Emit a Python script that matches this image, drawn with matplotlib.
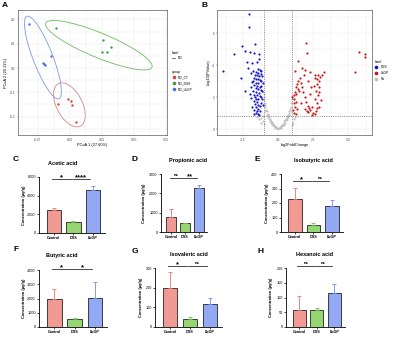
import numpy as np
import matplotlib
matplotlib.use("Agg")
import matplotlib.pyplot as plt
from matplotlib.patches import Ellipse
from matplotlib.lines import Line2D

plt.rcParams["font.family"] = ["Liberation Sans", "DejaVu Sans"]

# ---- A: PCoA scores
ct_x = [-0.094, -0.016, 0.008, 0.016, 0.047]
ct_y = [-0.148, -0.128, -0.136, -0.152, -0.222]
dss_x = [-0.109, 0.258, 0.320, 0.250, 0.289]
dss_y = [0.165, 0.115, 0.086, 0.066, 0.066]
lbgp_x = [-0.320, -0.148, -0.211, -0.195, -0.203]
lbgp_y = [0.181, 0.049, 0.021, 0.012, 0.016]
group_names = ["NO_CT", "NO_DSS", "NO_LbGP"]
F_90 = 4.32  # qf(0.90, 2, 4), ellipse level 0.9

# ---- B: volcano
down_x = [-2.07, -2.07, -2.6, -3.12, -3.9, -1.64, -2.36, -2.0, -1.71, -1.36, -2.24, -1.88,
          -1.52, -1.33, -2.12, -1.81, -2.67, -2.36,
          -1.45, -1.3, -1.2, -1.55, -1.4, -1.25, -1.65, -1.5, -1.35, -1.15, -1.75, -1.6,
          -1.45, -1.3, -1.2, -1.85, -1.55, -1.4, -1.1, -1.7, -1.5, -1.3, -1.95, -1.6,
          -1.45, -1.25, -1.15, -1.8, -1.55, -1.35, -1.7, -1.5, -1.3, -1.2, -1.9, -1.6,
          -1.4, -1.75, -1.5, -1.25, -1.65, -1.45, -1.3, -1.85, -1.55, -1.4, -1.7, -1.5,
          -1.3, -1.6, -1.45, -1.75, -1.35, -1.9, -1.8, -1.15, -1.1, -1.65, -2.0, -1.2]
down_y = [7.19, 6.35, 5.21, 4.69, 3.65, 5.3, 4.85, 4.8, 4.73, 4.69, 4.2, 4.1,
          4.2, 4.35, 3.79, 3.62, 3.2, 2.4,
          3.75, 3.7, 3.6, 3.55, 3.5, 3.45, 3.4, 3.35, 3.3, 3.3, 3.2, 3.15,
          3.1, 3.05, 3.0, 2.95, 2.9, 2.85, 2.85, 2.75, 2.7, 2.65, 2.6, 2.55,
          2.5, 2.45, 2.4, 2.35, 2.3, 2.25, 2.15, 2.1, 2.05, 2.0, 1.95, 1.9,
          1.85, 1.75, 1.7, 1.65, 1.55, 1.5, 1.45, 1.4, 1.35, 1.25, 1.2, 1.15,
          1.1, 1.0, 0.95, 0.92, 0.9, 3.5, 3.0, 1.9, 1.5, 2.0, 2.2, 2.7]
up_x = [2.0, 2.05, 5.74, 6.17, 6.17, 5.5, 1.45, 1.69, 1.21, 1.93, 2.29, 2.64, 2.88, 3.24,
        1.1, 1.15, 1.2, 1.25, 1.3, 1.35, 1.4, 1.45, 1.5, 1.55, 1.1, 1.2, 1.3, 1.05, 1.15,
        1.25, 1.6, 1.7, 1.8, 1.9, 2.0, 2.1, 2.2, 2.3, 2.4, 1.95, 2.05, 2.15, 2.5, 2.6,
        2.7, 2.75, 2.8, 2.65, 2.85, 2.7, 2.9, 2.75, 2.95, 2.8, 3.0, 3.1, 2.6, 2.55, 2.95,
        3.05, 2.9, 2.35, 2.15, 1.85, 1.35, 1.0, 2.45, 1.6, 2.25]
up_y = [5.4, 4.73, 4.79, 4.69, 4.52, 3.58, 4.27, 3.79, 3.62, 3.68, 3.54, 3.37, 3.4, 3.54,
        2.1, 1.9, 2.3, 2.6, 2.2, 2.8, 2.5, 3.0, 2.4, 3.2, 1.6, 1.4, 1.7, 1.2, 1.0,
        0.95, 2.9, 2.6, 2.3, 2.0, 1.7, 1.45, 1.3, 1.2, 1.35, 1.25, 1.1, 1.05, 1.0, 0.95,
        1.1, 1.3, 1.6, 1.9, 2.1, 2.4, 2.6, 2.8, 3.0, 3.15, 3.25, 3.4, 3.2, 2.7, 2.3,
        1.8, 1.4, 2.6, 3.0, 3.35, 1.25, 2.0, 0.9, 1.6, 2.2]
ns_x = [-1.05, -1.0, -1.0, -0.98, -0.95, -0.92, -0.9, -0.85, -0.8, -0.75, -0.7, -0.65,
        -0.6, -0.55, -0.5, -0.45, -0.4, -0.35, -0.3, -0.25, -0.2, -0.15, -0.1, -0.05,
        0.0, 0.05, 0.1, 0.15, 0.2, 0.25, 0.3, 0.35, 0.4, 0.45, 0.5, 0.55, 0.6, 0.65,
        0.7, 0.75, 0.8, 0.85, 0.9, 0.95, 0.98, 1.0,
        -0.9, -0.8, -0.7, -0.6, -0.5, -0.4, -0.3, -0.2, 0.2, 0.3, 0.4, 0.5, 0.6, 0.7,
        0.8, 0.9, -1.2, -1.35, -1.1, -1.5, -1.25, -1.05, 1.1, 1.2, 1.05, -1.0, 1.0]
ns_y = [2.3, 2.2, 2.0, 1.8, 1.6, 1.5, 1.35, 1.2, 1.1, 0.95, 0.85, 0.75,
        0.65, 0.55, 0.5, 0.42, 0.35, 0.3, 0.25, 0.2, 0.15, 0.1, 0.07, 0.04,
        0.02, 0.04, 0.08, 0.12, 0.17, 0.22, 0.28, 0.33, 0.4, 0.47, 0.55, 0.62, 0.7, 0.8,
        0.9, 1.0, 1.12, 1.25, 1.4, 1.6, 1.85, 2.05,
        1.1, 0.9, 0.7, 0.5, 0.38, 0.25, 0.16, 0.08, 0.08, 0.16, 0.27, 0.4, 0.55, 0.72,
        0.9, 1.15, 0.7, 0.6, 0.5, 0.75, 0.4, 0.8, 0.6, 0.75, 0.4, 0.3, 0.25]
fc_cut = 1.0
p_cut = 0.82

# ---- C-H: SCFA bars (mean, upper error)
groups = ["Control", "DSS", "LbGP"]
acetic_mean = [2460, 1180, 4600]
acetic_err = [220, 70, 440]
propionic_mean = [780, 465, 2275]
propionic_err = [410, 20, 160]
isobutyric_mean = [228, 48, 179]
isobutyric_err = [75, 14, 41]
butyric_mean = [1965, 560, 2035]
butyric_err = [705, 40, 1125]
isovaleric_mean = [200, 40, 117]
isovaleric_err = [80, 10, 33]
hexanoic_mean = [58, 58, 116]
hexanoic_err = [47, 7, 30]

W, H = 400, 337
fig = plt.figure(figsize=(W / 100, H / 100), dpi=100)


def rect(l, t, r, b):
    return [l / W, 1 - b / H, (r - l) / W, (b - t) / H]


def ftext(x, y, s, **kw):
    fig.text(x / W, 1 - y / H, s, **kw)


def cov_trob(pts, nu=5, maxit=25, tol=0.01):
    # robust t covariance, same idea as MASS::cov.trob used by stat_ellipse
    n, p = pts.shape
    loc = pts.mean(axis=0)
    w = np.ones(n)
    for _ in range(maxit):
        w0 = w
        X = pts - loc
        _, d, vt = np.linalg.svd(X / np.sqrt(n), full_matrices=False)
        wX = X @ vt.T / d
        Q = (wX ** 2).sum(axis=1)
        w = (nu + p) / (nu + Q)
        loc = (w[:, None] * pts).sum(axis=0) / w.sum()
        if np.all(np.abs(w - w0) < tol):
            break
    cov = (np.sqrt(w)[:, None] * X).T @ (np.sqrt(w)[:, None] * X) / n
    return loc, cov


def gg_axes(ax):
    ax.set_facecolor("white")
    for s in ax.spines.values():
        s.set_color("#333333")
        s.set_linewidth(0.4)
    ax.grid(True, which="both", color="#EBEBEB", lw=0.3)
    ax.set_axisbelow(True)
    ax.tick_params(length=1, width=0.3, labelsize=2.3, colors="#4D4D4D", pad=1)


# A
pt_cols = ["#D4463F", "#3F9E3A", "#4F6FE0"]
el_cols = ["#D88580", "#6DBA62", "#7E98E8"]
axA = fig.add_axes(rect(18, 10, 167, 135))
gg_axes(axA)
for gx, gy, pc, ec in zip([ct_x, dss_x, lbgp_x], [ct_y, dss_y, lbgp_y], pt_cols, el_cols):
    pts = np.column_stack([gx, gy])
    loc, cov = cov_trob(pts)
    vals, vecs = np.linalg.eigh(cov)
    r = np.sqrt(2 * F_90)
    ang = np.degrees(np.arctan2(vecs[1, 1], vecs[0, 1]))
    axA.add_patch(Ellipse(loc, 2 * r * np.sqrt(vals[1]), 2 * r * np.sqrt(vals[0]),
                          angle=ang, fill=False, ec=ec, lw=0.6))
    axA.scatter(gx, gy, s=3, color=pc, lw=0, zorder=3)
axA.set_xlim(-0.406, 0.758)
axA.set_ylim(-0.276, 0.239)
axA.set_xticks([-0.25, 0, 0.25, 0.5, 0.75])
axA.set_xticklabels(["-0.25", "0.00", "0.25", "0.50", "0.75"])
axA.set_yticks([-0.2, -0.1, 0, 0.1, 0.2])
axA.set_yticklabels(["-0.2", "-0.1", "0.0", "0.1", "0.2"])
axA.set_xticks([-0.375, -0.125, 0.125, 0.375, 0.625], minor=True)
axA.set_yticks([-0.25, -0.15, -0.05, 0.05, 0.15], minor=True)
axA.tick_params(which="minor", length=0)
axA.set_xlabel("PCoA 1 (27.60%)", fontsize=2.8, labelpad=1)
axA.set_ylabel("PCoA 2 (20.11%)", fontsize=2.8, labelpad=1)

lg1 = axA.legend([Line2D([], [], color="#333333", lw=0.5)], ["NO"], title="level",
                 loc="upper left", bbox_to_anchor=(170 / W, 1 - 49 / H),
                 bbox_transform=fig.transFigure, fontsize=2.3, title_fontsize=2.5,
                 frameon=False, handlelength=1.2, borderpad=0, alignment="left")
axA.add_artist(lg1)
hs = [Line2D([], [], ls="", marker="o", ms=1.6, color=c) for c in pt_cols]
axA.legend(hs, group_names, title="group", loc="upper left",
           bbox_to_anchor=(170 / W, 1 - 68 / H), bbox_transform=fig.transFigure,
           fontsize=2.3, title_fontsize=2.5, frameon=False, handlelength=1.2,
           borderpad=0, labelspacing=0.6, alignment="left")

# B
axB = fig.add_axes(rect(217, 10, 372, 135))
gg_axes(axB)
axB.scatter(ns_x, ns_y, s=2, color="#BEBEBE", lw=0, zorder=2)
axB.scatter(down_x, down_y, s=2.4, color="#1010D0", lw=0, zorder=3)
axB.scatter(up_x, up_y, s=2.4, color="#D01010", lw=0, zorder=3)
axB.axvline(-fc_cut, color="#444444", ls=(0, (2, 2)), lw=0.4)
axB.axvline(fc_cut, color="#444444", ls=(0, (2, 2)), lw=0.4)
axB.axhline(p_cut, color="#444444", ls=(0, (2, 2)), lw=0.4)
axB.set_xlim(-4.36, 6.7)
axB.set_ylim(-0.375, 7.44)
axB.set_xticks([-2.5, 0, 2.5, 5])
axB.set_xticklabels(["-2.5", "0.0", "2.5", "5.0"])
axB.set_yticks([0, 2, 4, 6])
axB.set_xticks([-3.75, -1.25, 1.25, 3.75, 6.25], minor=True)
axB.set_yticks([1, 3, 5, 7], minor=True)
axB.tick_params(which="minor", length=0)
axB.set_xlabel("log2FoldChange", fontsize=2.8, labelpad=1)
axB.set_ylabel("-log10(PValue)", fontsize=2.8, labelpad=1)
hsB = [Line2D([], [], ls="", marker="o", ms=1.6, color=c) for c in ["#1010D0", "#D01010", "#BEBEBE"]]
axB.legend(hsB, ["DSS", "LbGP", "No"], title="level", loc="upper left",
           bbox_to_anchor=(372 / W, 1 - 57 / H), bbox_transform=fig.transFigure,
           fontsize=2.3, title_fontsize=2.5, frameon=False, handlelength=1.2,
           borderpad=0.3, labelspacing=0.6, alignment="left")

ftext(2, 7, "A", fontsize=6, fontweight="bold")
ftext(202, 7, "B", fontsize=6, fontweight="bold")

# bars
bar_cols = ["#F19A94", "#96D672", "#93A9F4"]
err_cols = ["#E5766F", "#6FBE4A", "#6F8BEA"]
panels = [
    ("C", "Acetic acid", acetic_mean, acetic_err, [0, 2000, 4000, 6000], ["*", "****"], 5800,
     (39, 177, 105, 233), (13, 161), (63, 164), 24),
    ("D", "Propionic acid", propionic_mean, propionic_err, [0, 1000, 2000, 3000], ["ns", "**"], 2800,
     (161, 174, 207, 232), (132, 161), (188, 161), 144),
    ("E", "Isobutyric acid", isobutyric_mean, isobutyric_err, [0, 100, 200, 300, 400], ["*", "ns"], 350,
     (281, 174, 343, 232), (255, 161), (313, 161), 267),
    ("F", "Butyric acid", butyric_mean, butyric_err, [0, 1000, 2000, 3000, 4000], ["*", "*"], 4100,
     (39, 270, 107, 327), (13, 251), (62, 256), 24),
    ("G", "Isovaleric acid", isovaleric_mean, isovaleric_err, [0, 100, 200, 300], ["*", "ns"], 310,
     (155, 268, 222, 327), (132, 253), (189, 255), 141),
    ("H", "Hexanoic acid", hexanoic_mean, hexanoic_err, [0, 50, 100, 150, 200], ["ns", "ns"], 207,
     (286, 268, 345, 327), (257, 253), (315, 255), 271),
]
xpos = np.arange(len(groups))
for letter, title, mean, err, yt, sig, ly, box, lpos, tpos, ylx in panels:
    l, t, r, b = box
    ax = fig.add_axes(rect(l, t, r, b))
    ax.bar(xpos, mean, width=0.72, color=bar_cols, edgecolor="black", lw=0.5, zorder=2)
    for i in range(3):
        ax.errorbar(xpos[i], mean[i], yerr=[[0], [err[i]]], fmt="none", ecolor=err_cols[i],
                    elinewidth=0.6, capsize=1.5, capthick=0.6, zorder=3)
    ax.set_xlim(-0.75, 2.6)
    ax.set_ylim(0, yt[-1])
    ax.set_yticks(yt)
    ax.set_xticks(xpos)
    ax.set_xticklabels(groups, fontweight="bold")
    for s in ["top", "right"]:
        ax.spines[s].set_visible(False)
    for s in ["left", "bottom"]:
        ax.spines[s].set_linewidth(0.6)
    ax.spines["bottom"].set_zorder(4)
    ax.tick_params(length=1.5, width=0.5, labelsize=2.7, pad=0.8)
    for j, s in enumerate(sig):
        ax.plot([j - 0.1, j + 0.85], [ly, ly], color="black", lw=0.5, clip_on=False)
        dy = yt[-1] * (0.015 if s == "ns" else -0.04)
        ax.text(j + 0.38, ly + dy, s, ha="center", va="bottom",
                fontsize=3 if s == "ns" else 5.5, fontweight="bold", clip_on=False)
    ftext(lpos[0], lpos[1], letter, fontsize=6, fontweight="bold", va="baseline")
    ftext(tpos[0], tpos[1], title, fontsize=4, fontweight="bold", ha="center", va="center")
    ftext(ylx, (t + b) / 2, "Concentration (\u03bcg/g)", fontsize=2.9, fontweight="bold",
          rotation=90, ha="center", va="center")

fig.savefig("out.png", dpi=100)
